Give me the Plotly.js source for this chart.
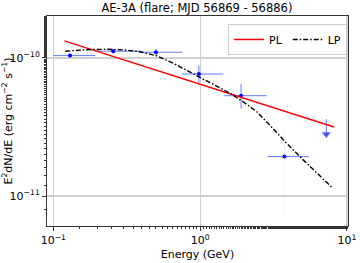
<!DOCTYPE html>
<html><head><meta charset="utf-8">
<script src="https://cdn.plot.ly/plotly-3.0.1.min.js"></script>
<style>html,body{margin:0;padding:0;background:#fff}#c{width:360px;height:263px}</style>
</head><body><div id="c"></div>
<script>
// Flux points (GeV, erg cm^-2 s^-1)
const ptE     = [0.130, 0.256, 0.50, 0.98, 1.90, 3.75];
const ptF     = [1.04e-10, 1.12e-10, 1.10e-10, 7.65e-11, 5.33e-11, 1.93e-11];
const ptElo   = [0.100, 0.193, 0.38, 0.75, 1.46, 2.87];
const ptEhi   = [0.193, 0.39, 0.755, 1.44, 2.84, 5.50];
const ptFlo   = [1.01e-10, 1.08e-10, 1.04e-10, 6.60e-11, 4.30e-11, 1.93e-11];
const ptFhi   = [1.07e-10, 1.15e-10, 1.16e-10, 8.80e-11, 6.50e-11, 1.93e-11];
// faint vertical error of the last point
const faintE  = [3.75];
const faintF  = [1.93e-11];
const faintLo = [7.65e-12];
const faintHi = [3.11e-11];
// upper limit
const ulE   = [7.23, 7.23];
const ulF   = [3.61e-11, 2.80e-11];
// PL model (straight line in log-log)
const plE = [0.119, 8.16];
const plF = [1.33e-10, 3.16e-11];
// LP model
const lpE = [0.1208, 0.1679, 0.2317, 0.302, 0.391, 0.507, 0.661, 0.855, 1.175, 1.60, 1.977, 2.432, 3.0, 3.69, 5.05, 6.31, 8.0];
const lpF = [1.119e-10, 1.148e-10, 1.156e-10, 1.143e-10, 1.112e-10, 1.035e-10, 9.12e-11, 7.87e-11, 6.61e-11, 5.55e-11, 4.79e-11, 4.08e-11, 3.24e-11, 2.55e-11, 1.82e-11, 1.45e-11, 1.14e-11];

const xTickVals = [0.1, 1, 10];
const xTickText = ['10<sup>−1</sup>', '10<sup>0</sup>', '10<sup>1</sup>'];
const yTickVals = [1e-11, 1e-10];
const yTickText = ['10<sup>−11</sup>', '10<sup>−10</sup>'];

const eb = 'rgba(70,100,255,0.85)';
const traces = [
  {x: faintE, y: faintF, mode: 'markers', marker: {size: 0.1, color: 'rgba(0,0,0,0)'},
   error_y: {type: 'data', symmetric: false,
     array: faintF.map((v,i)=>faintHi[i]-v), arrayminus: faintF.map((v,i)=>v-faintLo[i]),
     color: 'rgba(120,120,255,0.10)', thickness: 1, width: 0}, showlegend: false, hoverinfo: 'skip'},
  {x: ptE, y: ptF, mode: 'markers', marker: {size: 4, color: '#0000ff'},
   error_x: {type: 'data', symmetric: false,
     array: ptE.map((v,i)=>ptEhi[i]-v), arrayminus: ptE.map((v,i)=>v-ptElo[i]),
     color: eb, thickness: 1, width: 0},
   error_y: {type: 'data', symmetric: false,
     array: ptF.map((v,i)=>ptFhi[i]-v), arrayminus: ptF.map((v,i)=>v-ptFlo[i]),
     color: eb, thickness: 1, width: 0},
   showlegend: false},
  {x: ulE, y: ulF, mode: 'lines+markers', line: {color: eb, width: 1},
   marker: {symbol: 'triangle-down', size: [0, 7], color: '#0000ff'}, showlegend: false},
  {x: plE, y: plF, mode: 'lines', name: 'PL', line: {color: '#ff0000', width: 1.5}},
  {x: lpE, y: lpF, mode: 'lines', name: 'LP', line: {color: '#000000', width: 1.4, dash: '5px,2px,1.5px,2px'}}
];

const axCommon = {
  type: 'log', showline: true, mirror: true, linecolor: '#333', linewidth: 1,
  showgrid: true, gridcolor: '#d0d0d0', gridwidth: 1.2, zeroline: false,
  ticks: 'outside', ticklen: 4, tickcolor: '#333', tickmode: 'array',
  tickfont: {family: 'DejaVu Sans', size: 11, color: '#000'},
  minor: {ticks: 'outside', ticklen: 2, tickcolor: '#333', showgrid: false}
};

const layout = {
  width: 360, height: 263,
  margin: {l: 47, r: 12, t: 16, b: 37},
  paper_bgcolor: '#fff', plot_bgcolor: '#fff',
  title: {text: 'AE-3A (flare; MJD 56869 - 56886)', font: {family: 'DejaVu Sans', size: 11.5, color: '#000'},
    x: 0.547, xanchor: 'center', y: 0.985, yanchor: 'top'},
  xaxis: Object.assign({}, axCommon, {
    range: [Math.log10(0.0906), Math.log10(10.16)],
    tickvals: xTickVals, ticktext: xTickText,
    title: {text: 'Energy (GeV)', font: {family: 'DejaVu Sans', size: 11, color: '#000'}, standoff: 4}
  }),
  yaxis: Object.assign({}, axCommon, {
    range: [-11.217, -9.696],
    tickvals: yTickVals, ticktext: yTickText,
    title: {text: 'E<sup>2</sup>dN/dE (erg cm<sup>−2</sup> s<sup>−1</sup>)', font: {family: 'DejaVu Sans', size: 11, color: '#000'}, standoff: 2}
  }),
  legend: {orientation: 'h', x: 0.997, xanchor: 'right', y: 0.962, yanchor: 'top',
    bgcolor: '#fff', bordercolor: '#cccccc', borderwidth: 1, itemwidth: 30,
    font: {family: 'DejaVu Sans', size: 11, color: '#000'}},
  showlegend: true
};

Plotly.newPlot('c', traces, layout, {displayModeBar: false, staticPlot: true});
</script></body></html>
